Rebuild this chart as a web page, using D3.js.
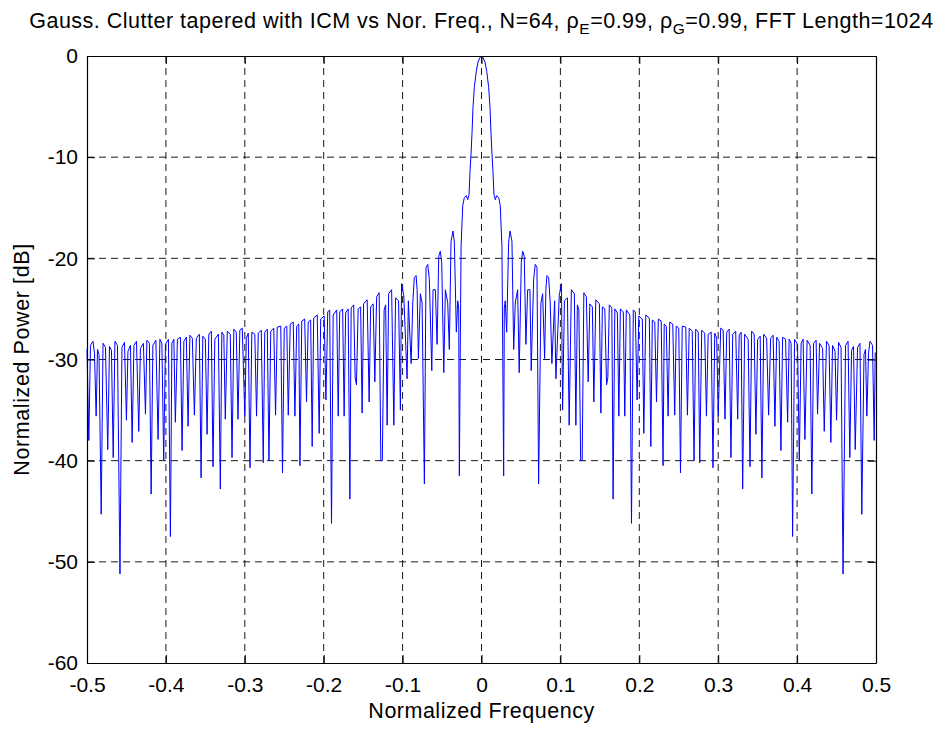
<!DOCTYPE html>
<html>
<head>
<meta charset="utf-8">
<script src="https://cdn.jsdelivr.net/npm/d3@7"></script>
<style>
  body { margin: 0; background: #fff; }
  svg { display: block; font-family: "Liberation Sans", Arial, Helvetica, sans-serif; }
</style>
</head>
<body>
<div id="chart"></div>
<script>
"use strict";

// spectrum, three pieces: left sidelobes, main lobe, right sidelobes
var leftFreq = [
  -0.5000, -0.4977, -0.4956, -0.4924, -0.4905, -0.4884, -0.4867, -0.4848, -0.4820, -0.4797,
  -0.4766, -0.4737, -0.4715, -0.4690, -0.4668, -0.4646, -0.4614, -0.4582, -0.4557, -0.4525,
  -0.4500, -0.4481, -0.4449, -0.4428, -0.4405, -0.4373, -0.4344, -0.4323, -0.4285, -0.4259,
  -0.4241, -0.4209, -0.4187, -0.4165, -0.4127, -0.4099, -0.4076, -0.4051, -0.4028, -0.4006,
  -0.3968, -0.3943, -0.3924, -0.3899, -0.3880, -0.3854, -0.3816, -0.3795, -0.3772, -0.3741,
  -0.3719, -0.3696, -0.3665, -0.3639, -0.3614, -0.3576, -0.3554, -0.3532, -0.3500, -0.3478,
  -0.3456, -0.3424, -0.3403, -0.3380, -0.3335, -0.3310, -0.3291, -0.3266, -0.3247, -0.3222,
  -0.3184, -0.3162, -0.3139, -0.3108, -0.3086, -0.3063, -0.3032, -0.3000, -0.2981, -0.2956,
  -0.2934, -0.2911, -0.2873, -0.2851, -0.2829, -0.2791, -0.2766, -0.2747, -0.2715, -0.2694,
  -0.2671, -0.2633, -0.2610, -0.2589, -0.2544, -0.2522, -0.2500, -0.2468, -0.2449, -0.2424,
  -0.2386, -0.2365, -0.2342, -0.2316, -0.2301, -0.2278, -0.2241, -0.2218, -0.2196, -0.2165,
  -0.2146, -0.2127, -0.2082, -0.2057, -0.2038, -0.1994, -0.1972, -0.1949, -0.1924, -0.1901,
  -0.1880, -0.1835, -0.1816, -0.1797, -0.1760, -0.1741, -0.1722, -0.1690, -0.1668, -0.1652,
  -0.1620, -0.1601, -0.1585, -0.1563, -0.1532, -0.1513, -0.1494, -0.1449, -0.1424, -0.1405,
  -0.1373, -0.1352, -0.1329, -0.1297, -0.1276, -0.1257, -0.1234, -0.1215, -0.1196, -0.1177,
  -0.1139, -0.1111, -0.1089, -0.1051, -0.1028
];
var leftPower = [
  -29.0, -38.0, -28.6, -28.2, -29.4, -35.6, -29.0, -29.5, -45.3, -28.4,
  -28.8, -38.9, -28.7, -29.1, -39.7, -28.2, -28.6, -51.2, -28.8, -28.3,
  -36.0, -29.2, -28.6, -38.2, -28.6, -28.2, -37.1, -28.9, -28.4, -35.4,
  -28.1, -28.4, -43.3, -28.6, -28.1, -37.9, -28.0, -28.4, -40.0, -28.5,
  -28.0, -47.5, -28.4, -28.0, -36.2, -28.0, -27.8, -39.0, -28.2, -27.8,
  -36.6, -27.6, -27.9, -35.5, -27.9, -27.5, -41.7, -27.7, -28.0, -37.4,
  -27.5, -27.2, -40.6, -28.0, -27.5, -42.8, -27.3, -27.6, -35.9, -27.2,
  -27.5, -39.7, -27.0, -27.3, -35.9, -27.1, -26.9, -35.6, -27.9, -27.4,
  -40.7, -27.3, -27.5, -35.6, -27.4, -27.1, -40.2, -27.3, -27.0, -40.0,
  -27.2, -26.9, -35.5, -26.8, -26.7, -41.2, -26.9, -26.7, -35.5, -26.5,
  -26.3, -35.6, -26.7, -26.5, -40.5, -26.2, -26.0, -34.2, -26.3, -26.1,
  -38.6, -25.9, -25.6, -37.3, -26.0, -25.7, -34.0, -25.3, -25.1, -46.2,
  -25.6, -25.1, -35.6, -25.3, -25.0, -35.6, -25.4, -25.0, -43.8, -24.9,
  -24.6, -31.8, -32.5, -25.0, -24.8, -35.3, -24.5, -24.1, -34.2, -24.8,
  -24.5, -32.2, -23.8, -23.4, -40.0, -40.0, -25.1, -24.6, -36.5, -23.5,
  -23.1, -36.5, -23.9, -24.2, -35.0
];

var mainFreq = [
  -0.1013, -0.0985, -0.0943, -0.0927, -0.0892, -0.0871, -0.0851, -0.0829, -0.0816, -0.0800,
  -0.0775, -0.0753, -0.0724, -0.0703, -0.0681, -0.0661, -0.0630, -0.0614, -0.0585, -0.0563,
  -0.0542, -0.0522, -0.0504, -0.0478, -0.0458, -0.0428, -0.0408, -0.0386, -0.0361, -0.0344,
  -0.0319, -0.0301, -0.0289, -0.0281, -0.0259, -0.0238, -0.0218, -0.0192, -0.0175, -0.0158,
  -0.0146, -0.0133, -0.0120, -0.0108, -0.0091, -0.0066, -0.0044, -0.0023, 0,
  0.0023, 0.0044, 0.0066, 0.0091, 0.0108, 0.0120, 0.0133, 0.0146,
  0.0158, 0.0175, 0.0192, 0.0218, 0.0238, 0.0259, 0.0281, 0.0289, 0.0301, 0.0319,
  0.0344, 0.0361, 0.0386, 0.0408, 0.0428, 0.0458, 0.0478, 0.0504, 0.0522, 0.0542,
  0.0563, 0.0585, 0.0614, 0.0630, 0.0661, 0.0681, 0.0703, 0.0724, 0.0753, 0.0775,
  0.0800, 0.0816, 0.0829, 0.0851, 0.0871, 0.0892, 0.0927, 0.0943, 0.0985, 0.1013
];
var mainPower = [
  -22.5, -23.7, -31.9, -24.2, -30.4, -24.4, -21.9, -21.7, -23.1, -29.9,
  -23.5, -24.4, -42.3, -20.9, -20.6, -22.1, -31.1, -23.1, -23.1, -28.5,
  -19.8, -19.3, -20.4, -31.3, -23.1, -24.4, -29.0, -18.3, -17.3, -18.4,
  -27.3, -24.2, -24.9, -41.5, -18.8, -14.8, -14.0, -13.8, -14.2, -13.7,
  -11.5, -9.7, -7.6, -5.1, -3.1, -1.5, -0.6, -0.2, 0,
  -0.2, -0.6, -1.5, -3.1, -5.1, -7.6, -9.7, -11.5,
  -13.7, -14.2, -13.8, -14.0, -14.8, -18.8, -41.5, -24.9, -24.2, -27.3,
  -18.4, -17.3, -18.3, -29.0, -24.4, -23.1, -31.3, -20.4, -19.3, -19.8,
  -28.5, -23.1, -23.1, -31.1, -22.1, -20.6, -20.9, -42.3, -24.4, -23.5,
  -29.9, -23.1, -21.7, -21.9, -24.4, -30.4, -24.2, -31.9, -23.7, -22.5
];

var rightFreq = [
  0.1028, 0.1051, 0.1089, 0.1111, 0.1139, 0.1177, 0.1196, 0.1215, 0.1234, 0.1257,
  0.1276, 0.1297, 0.1329, 0.1352, 0.1373, 0.1405, 0.1424, 0.1449, 0.1494, 0.1513,
  0.1532, 0.1563, 0.1585, 0.1601, 0.1620, 0.1652, 0.1668, 0.1690, 0.1722, 0.1741,
  0.1760, 0.1797, 0.1816, 0.1835, 0.1880, 0.1901, 0.1924, 0.1949, 0.1972, 0.1994,
  0.2038, 0.2057, 0.2082, 0.2127, 0.2146, 0.2165, 0.2196, 0.2218, 0.2241, 0.2278,
  0.2301, 0.2316, 0.2342, 0.2365, 0.2386, 0.2424, 0.2449, 0.2468, 0.2500, 0.2522,
  0.2544, 0.2589, 0.2610, 0.2633, 0.2671, 0.2694, 0.2715, 0.2747, 0.2766, 0.2791,
  0.2829, 0.2851, 0.2873, 0.2911, 0.2934, 0.2956, 0.2981, 0.3000, 0.3032, 0.3063,
  0.3086, 0.3108, 0.3139, 0.3162, 0.3184, 0.3222, 0.3247, 0.3266, 0.3291, 0.3310,
  0.3335, 0.3380, 0.3403, 0.3424, 0.3456, 0.3478, 0.3500, 0.3532, 0.3554, 0.3576,
  0.3614, 0.3639, 0.3665, 0.3696, 0.3719, 0.3741, 0.3772, 0.3795, 0.3816, 0.3854,
  0.3880, 0.3899, 0.3924, 0.3943, 0.3968, 0.4006, 0.4028, 0.4051, 0.4076, 0.4099,
  0.4127, 0.4165, 0.4187, 0.4209, 0.4241, 0.4259, 0.4285, 0.4323, 0.4344, 0.4373,
  0.4405, 0.4428, 0.4449, 0.4481, 0.4500, 0.4525, 0.4557, 0.4582, 0.4614, 0.4646,
  0.4668, 0.4690, 0.4715, 0.4737, 0.4766, 0.4797, 0.4820, 0.4848, 0.4867, 0.4884,
  0.4905, 0.4924, 0.4956, 0.4977, 0.4990
];
var rightPower = [
  -35.0, -24.2, -23.9, -36.5, -23.1, -23.5, -36.5, -24.6, -25.1, -40.0,
  -40.0, -23.4, -23.8, -32.2, -24.5, -24.8, -34.2, -24.1, -24.5, -35.3,
  -24.8, -25.0, -32.5, -31.8, -24.6, -24.9, -43.8, -25.0, -25.4, -35.6,
  -25.0, -25.3, -35.6, -25.1, -25.6, -46.2, -25.1, -25.3, -34.0, -25.7,
  -26.0, -37.3, -25.6, -25.9, -38.6, -26.1, -26.3, -34.2, -26.0, -26.2,
  -40.5, -26.5, -26.7, -35.6, -26.3, -26.5, -35.5, -26.7, -26.9, -41.2,
  -26.7, -26.8, -35.5, -26.9, -27.2, -40.0, -27.0, -27.3, -40.2, -27.1,
  -27.4, -35.6, -27.5, -27.3, -40.7, -27.4, -27.9, -35.6, -26.9, -27.1,
  -35.9, -27.3, -27.0, -39.7, -27.5, -27.2, -35.9, -27.6, -27.3, -42.8,
  -27.5, -28.0, -40.6, -27.2, -27.5, -37.4, -28.0, -27.7, -41.7, -27.5,
  -27.9, -35.5, -27.9, -27.6, -36.6, -27.8, -28.2, -39.0, -27.8, -28.0,
  -36.2, -28.0, -28.4, -47.5, -28.0, -28.5, -40.0, -28.4, -28.0, -37.9,
  -28.1, -28.6, -43.3, -28.4, -28.1, -35.4, -28.4, -28.9, -37.1, -28.2,
  -28.6, -38.2, -28.6, -29.2, -36.0, -28.3, -28.8, -51.2, -28.6, -28.2,
  -39.7, -29.1, -28.7, -38.9, -28.8, -28.4, -45.3, -29.5, -29.0, -35.6,
  -29.4, -28.2, -28.6, -38.0, -29.3
];

var xTicks = [-0.5, -0.4, -0.3, -0.2, -0.1, 0, 0.1, 0.2, 0.3, 0.4, 0.5];
var yTicks = [-60, -50, -40, -30, -20, -10, 0];

var freq = leftFreq.concat(mainFreq, rightFreq);
var power = leftPower.concat(mainPower, rightPower);
var points = freq.map(function(f, i) { return { f: f, p: power[i] }; });

var W = 939, H = 729;
var margin = {top: 56, right: 63, bottom: 66, left: 87};
var width = W - margin.left - margin.right;
var height = H - margin.top - margin.bottom;
var tickFont = 21;
var labelFont = 21.5;

var x = d3.scaleLinear().domain([-0.5, 0.5]).range([0, width]);
var y = d3.scaleLinear().domain([-60, 0]).range([height, 0]);

var svg = d3.select("#chart").append("svg")
    .attr("width", W)
    .attr("height", H);

svg.append("rect").attr("width", W).attr("height", H).attr("fill", "#fff");

var g = svg.append("g")
    .attr("transform", "translate(" + margin.left + "," + margin.top + ")");

// grid
g.append("g").selectAll("line")
    .data(xTicks.slice(1, -1))
  .enter().append("line")
    .attr("x1", function(d) { return x(d); })
    .attr("x2", function(d) { return x(d); })
    .attr("y1", 0)
    .attr("y2", height)
    .attr("stroke", "#000")
    .attr("stroke-width", 0.9)
    .attr("stroke-dasharray", "7,5");

g.append("g").selectAll("line")
    .data(yTicks.slice(1, -1))
  .enter().append("line")
    .attr("x1", 0)
    .attr("x2", width)
    .attr("y1", function(d) { return y(d); })
    .attr("y2", function(d) { return y(d); })
    .attr("stroke", "#000")
    .attr("stroke-width", 0.9)
    .attr("stroke-dasharray", "7,5");

// the spectrum
var line = d3.line()
    .x(function(d) { return x(d.f); })
    .y(function(d) { return y(d.p); });

g.append("path")
    .datum(points)
    .attr("fill", "none")
    .attr("stroke", "#0000ff")
    .attr("stroke-width", 1)
    .attr("stroke-linejoin", "round")
    .attr("d", line);

// axes, ticks pointing inwards; plain hyphen for the minus sign like matlab
function plain(d) { return String(d); }

function styleAxis(sel) {
  sel.selectAll("path").attr("stroke", "#000").attr("stroke-width", 1.2);
  sel.selectAll("line").attr("stroke", "#000");
  sel.selectAll("text")
      .attr("fill", "#000")
      .style("font-size", tickFont + "px")
      .style("font-family", '"Liberation Sans", Arial, sans-serif');
}

g.append("g")
    .attr("transform", "translate(0," + height + ")")
    .call(d3.axisBottom(x).tickValues(xTicks).tickSize(-8).tickSizeOuter(0).tickPadding(14)
      .tickFormat(plain))
    .call(styleAxis);

g.append("g")
    .call(d3.axisTop(x).tickValues(xTicks).tickSize(-8).tickSizeOuter(0).tickFormat(""))
    .call(styleAxis);

g.append("g")
    .call(d3.axisLeft(y).tickValues(yTicks).tickSize(-8).tickSizeOuter(0).tickPadding(9)
      .tickFormat(plain))
    .call(styleAxis);

g.append("g")
    .attr("transform", "translate(" + width + ",0)")
    .call(d3.axisRight(y).tickValues(yTicks).tickSize(-8).tickSizeOuter(0).tickFormat(""))
    .call(styleAxis);

// labels
svg.append("text")
    .attr("x", margin.left + width / 2)
    .attr("y", 718)
    .attr("text-anchor", "middle")
    .style("font-size", labelFont + "px")
    .style("letter-spacing", "0.5px")
    .text("Normalized Frequency");

svg.append("text")
    .attr("transform", "translate(29," + (margin.top + height / 2) + ") rotate(-90)")
    .attr("text-anchor", "middle")
    .style("font-size", labelFont + "px")
    .style("letter-spacing", "0.6px")
    .text("Normalized Power [dB]");

var title = svg.append("text")
    .attr("x", margin.left + width / 2)
    .attr("y", 28)
    .attr("text-anchor", "middle")
    .style("font-size", "21.5px")
    .style("letter-spacing", "0.5px");
title.append("tspan").text("Gauss. Clutter tapered with ICM vs Nor. Freq., N=64, \u03C1");
title.append("tspan").attr("dy", 6).style("font-size", "15.5px").text("E");
title.append("tspan").attr("dy", -6).text("=0.99, \u03C1");
title.append("tspan").attr("dy", 6).style("font-size", "15.5px").text("G");
title.append("tspan").attr("dy", -6).text("=0.99, FFT Length=1024");
</script>
</body>
</html>
